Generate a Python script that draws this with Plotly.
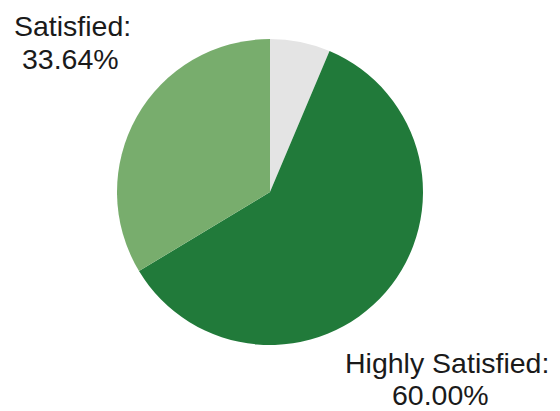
import plotly.graph_objects as go

# Satisfaction breakdown
categories = ["Other", "Highly Satisfied", "Satisfied"]
values = [6.36, 60.00, 33.64]
colors = ["#e4e4e4", "#217a3a", "#78ad6d"]

W, H = 560, 411

fig = go.Figure(
    go.Pie(
        labels=categories,
        values=values,
        sort=False,
        direction="clockwise",
        rotation=0,
        marker=dict(colors=colors, line=dict(width=0)),
        textinfo="none",
        hoverinfo="label+percent",
        domain=dict(x=[117 / W, 423 / W], y=[1 - 346 / H, 1 - 38 / H]),
    )
)

font = dict(family="Liberation Sans, Arial, sans-serif", size=28.5, color="#1a1a1a")


def px(x, y):
    return dict(x=x / W, y=1 - y / H, xref="paper", yref="paper",
                xanchor="center", yanchor="middle", showarrow=False,
                borderpad=0, font=font)


annotations = [
    dict(text=f"{categories[2]}:", **px(72, 26)),
    dict(text=f"{values[2]:.2f}%", **px(70, 59)),
    dict(text=f"{categories[1]}:", **px(447, 363)),
    dict(text=f"{values[1]:.2f}%", **px(440, 395)),
]

fig.update_layout(
    width=W,
    height=H,
    margin=dict(l=0, r=0, t=0, b=0),
    paper_bgcolor="white",
    plot_bgcolor="white",
    showlegend=False,
    annotations=annotations,
)

fig.write_html("out.html")
